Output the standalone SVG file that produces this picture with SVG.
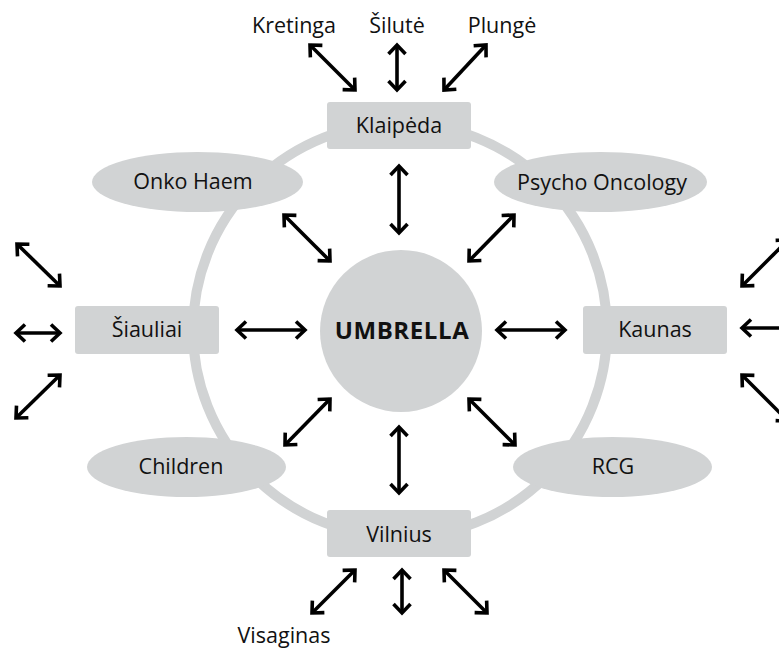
<svg xmlns="http://www.w3.org/2000/svg" width="779" height="651" viewBox="0 0 779 651">
<style>
.bg{fill:#ffffff}
.ring{fill:none;stroke:#d1d3d4;stroke-width:10}
.shape{fill:#d1d3d4}
.lbl{font-family:"Open Sans","Noto Sans","Liberation Sans",sans-serif;font-size:21.5px;fill:#111;text-anchor:middle}
.big{font-family:"Open Sans","Noto Sans","Liberation Sans",sans-serif;font-size:24px;font-weight:bold;letter-spacing:0.6px;fill:#111;text-anchor:middle}
.arr{fill:none;stroke:#000;stroke-width:3.6;marker-start:url(#ah);marker-end:url(#ah)}
</style>
<defs>
<marker id="ah" markerUnits="userSpaceOnUse" orient="auto-start-reverse" refX="0" refY="0" markerWidth="30" markerHeight="30" viewBox="-15 -15 30 30" overflow="visible">
<path d="M-9,-8.5 L0,0 L-9,8.5" fill="none" stroke="#000" stroke-width="3.6" stroke-linejoin="miter"/>
</marker>
</defs>
<rect class="bg" x="0" y="0" width="779" height="651"/>
<circle class="ring" cx="400" cy="330" r="207"/>

<g id="klaipeda"><rect class="shape" x="327" y="102" width="144" height="47" rx="3"/><text class="lbl" x="399" y="133">Klaipėda</text></g>
<g id="siauliai"><rect class="shape" x="75" y="306" width="144" height="48" rx="3"/><text class="lbl" x="147" y="337">Šiauliai</text></g>
<g id="kaunas"><rect class="shape" x="583" y="306" width="144" height="48" rx="3"/><text class="lbl" x="655" y="337">Kaunas</text></g>
<g id="vilnius"><rect class="shape" x="327" y="510" width="144" height="47" rx="3"/><text class="lbl" x="399" y="542">Vilnius</text></g>
<g id="onko"><ellipse class="shape" cx="197.5" cy="182" rx="105.5" ry="30"/><text class="lbl" x="193" y="189">Onko Haem</text></g>
<g id="psycho"><ellipse class="shape" cx="600.5" cy="182" rx="106.5" ry="30"/><text class="lbl" x="602" y="190">Psycho Oncology</text></g>
<g id="children"><ellipse class="shape" cx="186.5" cy="467" rx="99.5" ry="30"/><text class="lbl" x="181" y="474">Children</text></g>
<g id="rcg"><ellipse class="shape" cx="612.5" cy="467" rx="99.5" ry="30"/><text class="lbl" x="613" y="474">RCG</text></g>
<g id="umbrella"><circle class="shape" cx="401" cy="331" r="81"/><text class="big" x="402" y="339">UMBRELLA</text></g>
<g id="kretinga"><text class="lbl" x="294" y="33">Kretinga</text></g>
<g id="silute"><text class="lbl" x="397" y="33">Šilutė</text></g>
<g id="plunge"><text class="lbl" x="502" y="33">Plungė</text></g>
<g id="visaginas"><text class="lbl" x="284" y="643">Visaginas</text></g>

<g id="connectors">
<path class="arr" d="M310,45 L355,90"/>
<path class="arr" d="M397,45 L397,90"/>
<path class="arr" d="M486,45 L444,90"/>
<path class="arr" d="M399,166 L399,233"/>
<path class="arr" d="M284,215 L330,261"/>
<path class="arr" d="M514,215 L469,261"/>
<path class="arr" d="M237,330 L305,330"/>
<path class="arr" d="M497,330 L565,330"/>
<path class="arr" d="M285,445 L330,399"/>
<path class="arr" d="M515,445 L469,399"/>
<path class="arr" d="M399,427 L399,493"/>
<path class="arr" d="M355,570 L312,613"/>
<path class="arr" d="M402,570 L402,613"/>
<path class="arr" d="M444,570 L487,613"/>
<path class="arr" d="M17,244 L60,286"/>
<path class="arr" d="M16,333 L60,333"/>
<path class="arr" d="M60,375 L16,418"/>
<path class="arr" d="M742,286 L788,240"/>
<path class="arr" d="M742,328 L790,328"/>
<path class="arr" d="M742,375 L788,421"/>
</g>
</svg>
